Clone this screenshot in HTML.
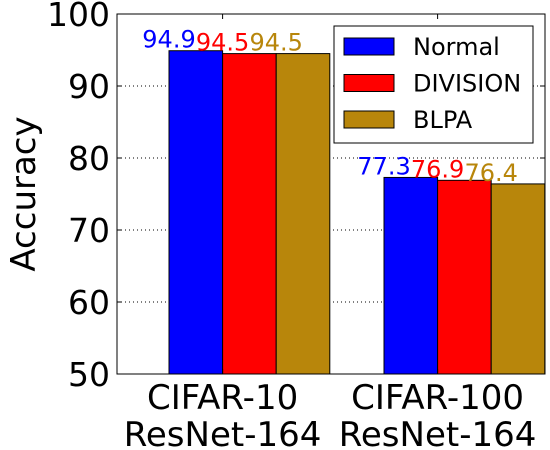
<!DOCTYPE html>
<html><head><meta charset="utf-8"><style>
body{margin:0;background:#fff;}
svg{display:block;font-family:"DejaVu Sans","Liberation Sans",sans-serif;}
</style></head><body>
<svg id="chart" width="550" height="450"></svg>
<script>
const categories=["CIFAR-10\nResNet-164","CIFAR-100\nResNet-164"];
const seriesNames=["Normal","DIVISION","BLPA"];
const seriesColors=["#0000ff","#ff0000","#b8860b"];
const normalValues=[94.9,77.3];
const divisionValues=[94.5,76.9];
const blpaValues=[94.5,76.4];
const yTicks=[50,60,70,80,90,100];
const series=[normalValues,divisionValues,blpaValues];
const NS="http://www.w3.org/2000/svg";
const svg=document.getElementById('chart');
const L=117,R=545,T=14,B=374,yMin=50,yMax=100;
const y=v=>B-(v-yMin)/(yMax-yMin)*(B-T);
const groupStart=[169,384],bw=53.6;
const x=(c,s)=>groupStart[0]+c*(groupStart[1]-groupStart[0])+s*bw;
function mk(t,a,p){const e=document.createElementNS(NS,t);for(const k in a)e.setAttribute(k,a[k]);(p||svg).appendChild(e);return e;}
yTicks.forEach(v=>{
 if(v>yMin&&v<yMax){const g=mk('line',{x1:L,x2:R,y1:y(v),y2:y(v),stroke:'#000','stroke-dasharray':'1,3','stroke-width':1});
 
 }
 const tl=mk('line',{x1:L,x2:L+5,y1:y(v),y2:y(v),stroke:'#000'});
 
 
 const tr=mk('line',{x1:R-5,x2:R,y1:y(v),y2:y(v),stroke:'#000'});
 
 
 const t=mk('text',{x:L-7,y:y(v)+12,'text-anchor':'end','font-size':33});
 t.textContent=v;
 
 
});
series.forEach((vals,s)=>vals.forEach((v,c)=>{
 const r=mk('rect',{x:x(c,s),y:y(v),width:bw,height:B-y(v),fill:seriesColors[s],stroke:'#000','stroke-width':1});
 
 
 const t=mk('text',{x:x(c,s),y:y(v)-3,'text-anchor':'middle','font-size':24,fill:seriesColors[s]});
 t.textContent=v.toFixed(1);
 
 
}));
categories.forEach((c,i)=>{
 const cx=x(i,1);
 const a=mk('line',{x1:cx,x2:cx,y1:B,y2:B-5,stroke:'#000'});
 
 
 const b=mk('line',{x1:cx,x2:cx,y1:T,y2:T+5,stroke:'#000'});
 
 
 c.split('\n').forEach((ln,j)=>{
  const t=mk('text',{x:cx,y:409+j*37,'text-anchor':'middle','font-size':34});
  t.textContent=ln;
  
  
 });
});
const f=mk('rect',{x:L,y:T,width:R-L,height:B-T,fill:'none',stroke:'#000','stroke-width':1});


const yt=mk('text',{x:0,y:0,'text-anchor':'middle','font-size':34,transform:'translate(35,194) rotate(-90)'});
yt.textContent='Accuracy';


const lg=mk('g',{});


mk('rect',{x:334,y:26,width:199,height:117,fill:'#fff',stroke:'#000'},lg);
seriesNames.forEach((n,i)=>{
 const ry=38+i*36.5;
 const p=mk('rect',{x:344,y:ry,width:50,height:17,fill:seriesColors[i],stroke:'#000'},lg);
 
 
 const t=mk('text',{x:413,y:ry+17,'font-size':24},lg);
 t.textContent=n;
 
 
});
</script>
</body></html>
